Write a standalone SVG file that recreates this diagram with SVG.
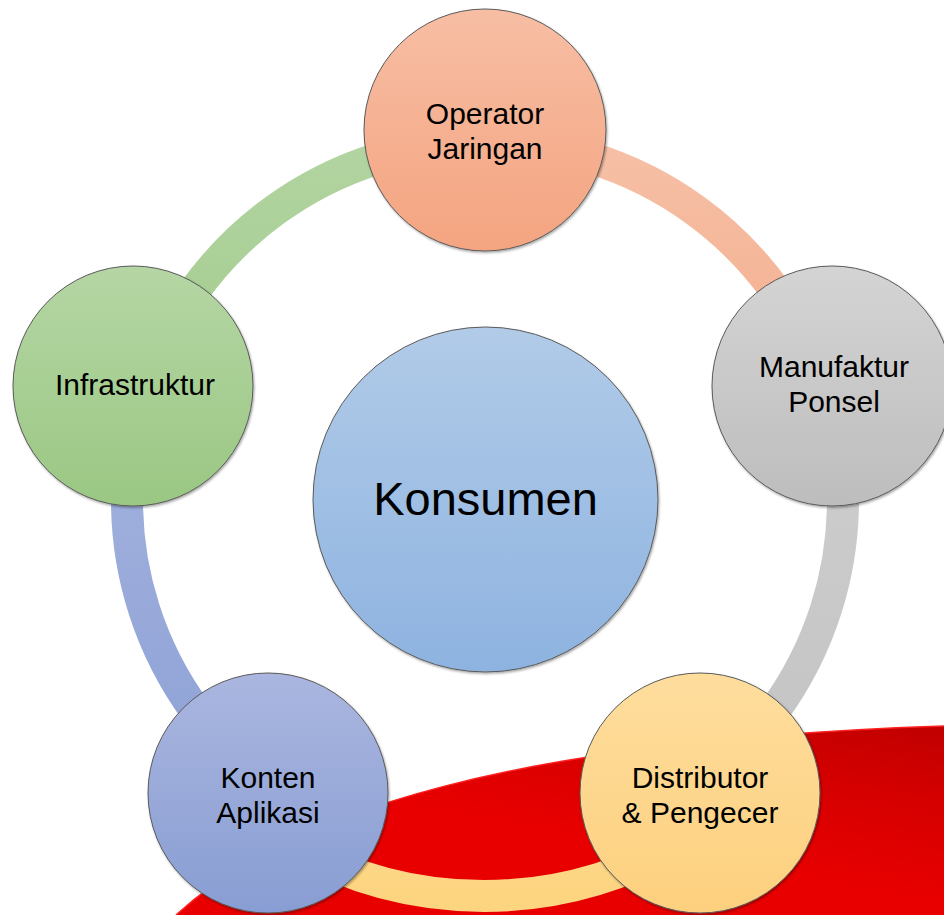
<svg xmlns="http://www.w3.org/2000/svg" width="944" height="915" viewBox="0 0 944 915">
  <defs>
    <style>
      .node { stroke: #5a5a5a; stroke-width: 1; filter: url(#sh); }
      .arc { fill: none; stroke-width: 32; }
      .lbl { font-family: "Liberation Sans", Arial, sans-serif; font-size: 30px; fill: #000; text-anchor: middle; }
      .big { font-family: "Liberation Sans", Arial, sans-serif; font-size: 47px; fill: #000; text-anchor: middle; }
    </style>
    <filter id="sh" x="-10%" y="-10%" width="120%" height="120%">
      <feDropShadow dx="1" dy="1.5" stdDeviation="1" flood-color="#000" flood-opacity="0.35"/>
    </filter>
    <linearGradient id="gRed" x1="1" y1="0" x2="0.55" y2="0.6">
      <stop offset="0" stop-color="#C00000"/>
      <stop offset="0.45" stop-color="#D60000"/>
      <stop offset="1" stop-color="#E80000"/>
    </linearGradient>
    <linearGradient id="gOp" x1="0" y1="0" x2="0" y2="1">
      <stop offset="0" stop-color="#F7BEA4"/>
      <stop offset="1" stop-color="#F4A480"/>
    </linearGradient>
    <linearGradient id="gMa" x1="0" y1="0" x2="0" y2="1">
      <stop offset="0" stop-color="#D4D4D4"/>
      <stop offset="1" stop-color="#BDBDBD"/>
    </linearGradient>
    <linearGradient id="gDi" x1="0" y1="0" x2="0" y2="1">
      <stop offset="0" stop-color="#FEDD9D"/>
      <stop offset="1" stop-color="#FDD07E"/>
    </linearGradient>
    <linearGradient id="gKo" x1="0" y1="0" x2="0" y2="1">
      <stop offset="0" stop-color="#AAB6DF"/>
      <stop offset="1" stop-color="#889DD3"/>
    </linearGradient>
    <linearGradient id="gIn" x1="0" y1="0" x2="0" y2="1">
      <stop offset="0" stop-color="#B5D6A4"/>
      <stop offset="1" stop-color="#9AC783"/>
    </linearGradient>
    <linearGradient id="gCe" x1="0" y1="0" x2="0" y2="1">
      <stop offset="0" stop-color="#B1CBE8"/>
      <stop offset="1" stop-color="#8EB3E0"/>
    </linearGradient>
    <linearGradient id="aSa" x1="0" y1="0" x2="0" y2="1">
      <stop offset="0" stop-color="#F6C0A6"/>
      <stop offset="1" stop-color="#F4AE8E"/>
    </linearGradient>
    <linearGradient id="aGr" x1="0" y1="0" x2="0" y2="1">
      <stop offset="0" stop-color="#CFCFCF"/>
      <stop offset="1" stop-color="#C3C3C3"/>
    </linearGradient>
    <linearGradient id="aYe" x1="0" y1="0" x2="0" y2="1">
      <stop offset="0" stop-color="#FDD98A"/>
      <stop offset="1" stop-color="#FDD480"/>
    </linearGradient>
    <linearGradient id="aBl" x1="0" y1="0" x2="0" y2="1">
      <stop offset="0" stop-color="#A4B2DE"/>
      <stop offset="1" stop-color="#8EA2D6"/>
    </linearGradient>
    <linearGradient id="aGn" x1="0" y1="0" x2="0" y2="1">
      <stop offset="0" stop-color="#B2D4A1"/>
      <stop offset="1" stop-color="#A4CC8E"/>
    </linearGradient>
  </defs>

  <rect x="0" y="0" width="944" height="915" fill="#FFFFFF"/>

  <g id="background-swoosh">
    <path d="M 176 915 C 290 810 520 740 944 726 L 944 915 Z" fill="url(#gRed)"/>
    <path d="M 176 915 C 290 810 520 740 944 726" fill="none" stroke="#FF2020" stroke-width="1.5"/>
  </g>

  <g id="connectors">
    <path class="arc" stroke="url(#aSa)" d="M 485 142 A 358 358 0 0 1 825.1 388.2"/>
    <path class="arc" stroke="url(#aGr)" d="M 825.1 388.2 A 358 358 0 0 1 697 788.5"/>
    <path class="arc" stroke="url(#aYe)" d="M 678 844 A 388 388 0 0 1 290 844"/>
    <path class="arc" stroke="url(#aBl)" d="M 273 788.5 A 358 358 0 0 1 144.5 389.4"/>
    <path class="arc" stroke="url(#aGn)" d="M 144.5 389.4 A 358 358 0 0 1 485 142"/>
  </g>

  <g id="node-konsumen">
    <circle class="node" cx="485.5" cy="499.5" r="172.5" fill="url(#gCe)"/>
    <text class="big" x="485.5" y="515">Konsumen</text>
  </g>

  <g id="node-operator">
    <circle class="node" cx="485" cy="130" r="121" fill="url(#gOp)"/>
    <text class="lbl" x="485" y="124">Operator</text>
    <text class="lbl" x="485" y="159">Jaringan</text>
  </g>

  <g id="node-manufaktur">
    <circle class="node" cx="832" cy="386" r="120" fill="url(#gMa)"/>
    <text class="lbl" x="834" y="377">Manufaktur</text>
    <text class="lbl" x="834" y="412">Ponsel</text>
  </g>

  <g id="node-distributor">
    <circle class="node" cx="700" cy="793" r="120" fill="url(#gDi)"/>
    <text class="lbl" x="700" y="788">Distributor</text>
    <text class="lbl" x="700" y="823">&amp; Pengecer</text>
  </g>

  <g id="node-konten">
    <circle class="node" cx="268" cy="793" r="120" fill="url(#gKo)"/>
    <text class="lbl" x="268" y="788">Konten</text>
    <text class="lbl" x="268" y="823">Aplikasi</text>
  </g>

  <g id="node-infrastruktur">
    <circle class="node" cx="133" cy="386" r="120" fill="url(#gIn)"/>
    <text class="lbl" x="135" y="395">Infrastruktur</text>
  </g>
</svg>
